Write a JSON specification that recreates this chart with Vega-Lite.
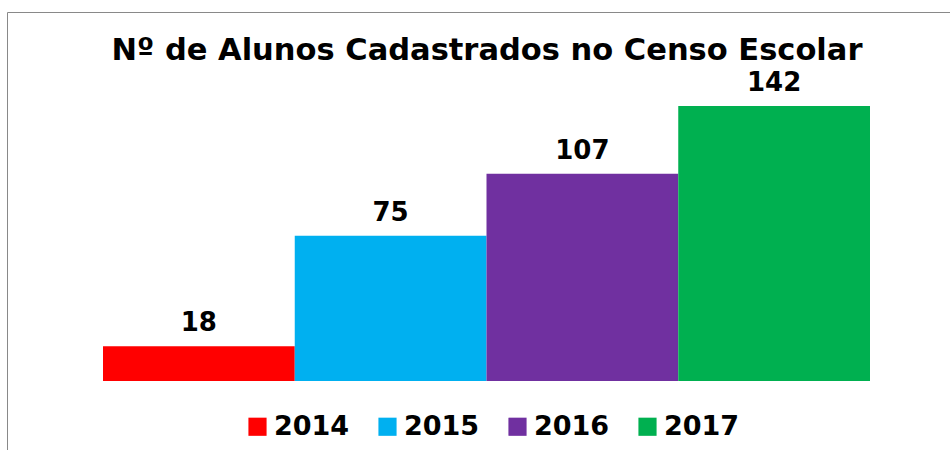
{
  "$schema": "https://vega.github.io/schema/vega-lite/v6.json",
  "width": 950,
  "height": 450,
  "autosize": {"type": "fit", "contains": "padding"},
  "padding": {"left": 7, "top": 12, "right": -5, "bottom": -5},
  "background": "white",
  "config": {"view": {"stroke": "#898989", "strokeWidth": 1}},
  "title": {
    "text": "Nº de Alunos Cadastrados no Censo Escolar",
    "font": "DejaVu Sans",
    "fontWeight": "bold",
    "fontSize": 30.5,
    "color": "black",
    "anchor": "middle",
    "offset": -78,
    "baseline": "alphabetic",
    "dx": 6
  },
  "data": {
    "values": [
      {"ano": "2014", "alunos": 18},
      {"ano": "2015", "alunos": 75},
      {"ano": "2016", "alunos": 107},
      {"ano": "2017", "alunos": 142}
    ]
  },
  "encoding": {
    "x": {
      "field": "ano",
      "type": "nominal",
      "scale": {"range": [96, 863], "paddingInner": 0, "paddingOuter": 0},
      "axis": null
    },
    "y": {
      "field": "alunos",
      "type": "quantitative",
      "scale": {"domain": [0, 142], "range": [369, 94], "nice": false},
      "axis": null
    }
  },
  "layer": [
    {
      "mark": {"type": "bar"},
      "encoding": {
        "color": {
          "field": "ano",
          "type": "nominal",
          "scale": {
            "domain": ["2014", "2015", "2016", "2017"],
            "range": ["#FF0000", "#00B0F0", "#7030A0", "#00B050"]
          },
          "legend": {
            "orient": "none",
            "legendX": 237,
            "legendY": 401,
            "direction": "horizontal",
            "title": null,
            "symbolType": "square",
            "symbolSize": 330,
            "symbolStrokeWidth": 0,
            "symbolOpacity": 1,
            "labelFont": "DejaVu Sans",
            "labelFontWeight": "bold",
            "labelFontSize": 27,
            "labelColor": "black",
            "columnPadding": 24,
            "labelOffset": 3
          }
        }
      }
    },
    {
      "mark": {
        "type": "text",
        "baseline": "alphabetic",
        "dy": -15,
        "font": "DejaVu Sans",
        "fontWeight": "bold",
        "fontSize": 26,
        "color": "black"
      },
      "encoding": {"text": {"field": "alunos", "type": "quantitative"}}
    }
  ]
}
